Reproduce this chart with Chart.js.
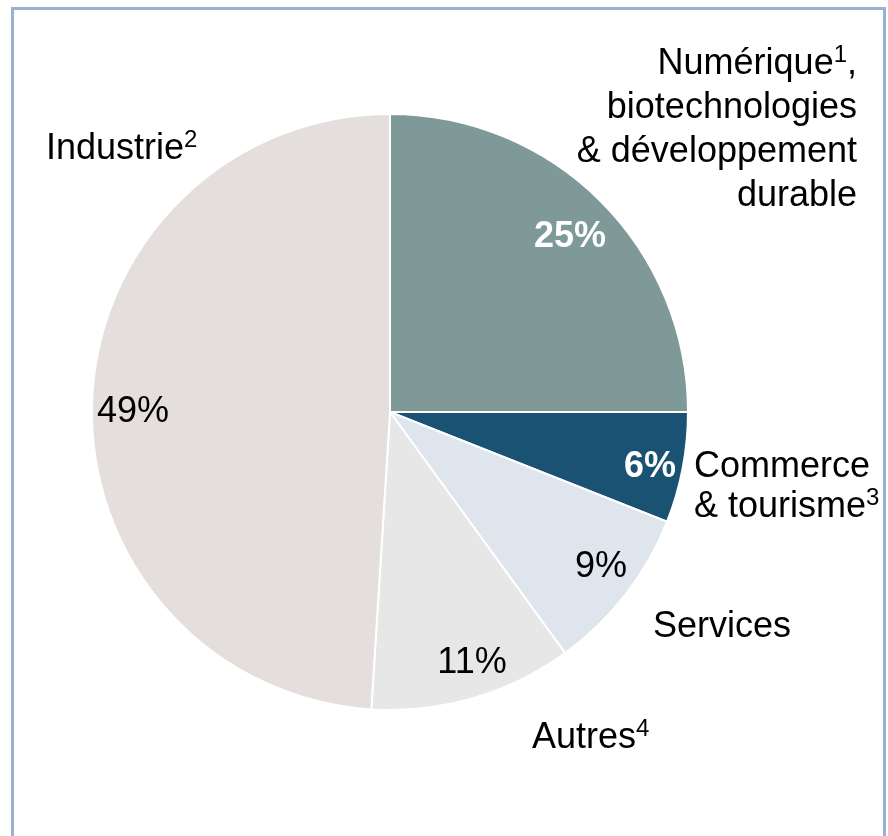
<!DOCTYPE html>
<html lang="fr">
<head>
<meta charset="utf-8">
<title>Répartition par secteur</title>
<script src="https://cdn.jsdelivr.net/npm/chart.js@4.4.1/dist/chart.umd.min.js"></script>
<style>
  html, body { margin: 0; padding: 0; background: #fff; }
  #wrap { position: relative; width: 888px; height: 836px; overflow: hidden; }
  #frame {
    position: absolute; left: 11px; top: 7px; width: 875px; height: 860px;
    border: 3px solid #9bb1d2; box-sizing: border-box;
  }
  canvas { position: absolute; left: 0; top: 0; }
</style>
</head>
<body>
<div id="wrap">
  <div id="frame"></div>
  <canvas id="chart-secteurs" width="888" height="836"></canvas>
</div>
<script>
// Sectors, clockwise from 12 o'clock
const categories = ['Numérique, biotechnologies & développement durable', 'Commerce & tourisme', 'Services', 'Autres', 'Industrie'];
const shares = [25, 6, 9, 11, 49];
const sliceColors = ['#7f9898', '#1a5273', '#dfe5ed', '#e7e7e7', '#e4dfdc'];

const FONT = '"Liberation Sans", Arial, Helvetica, sans-serif';

// Draw a line made of text parts; parts flagged sup are drawn smaller and raised
function drawParts(ctx, parts, x, y, align, size, weight, color) {
  const supSize = Math.round(size * 0.66);
  let total = 0;
  parts.forEach(p => {
    ctx.font = weight + ' ' + (p.sup ? supSize : size) + 'px ' + FONT;
    p.w = ctx.measureText(p.t).width;
    total += p.w;
  });
  let cx = x;
  if (align === 'right') cx = x - total;
  if (align === 'center') cx = x - total / 2;
  ctx.fillStyle = color;
  ctx.textAlign = 'left';
  ctx.textBaseline = 'alphabetic';
  parts.forEach(p => {
    ctx.font = weight + ' ' + (p.sup ? supSize : size) + 'px ' + FONT;
    ctx.fillText(p.t, cx, p.sup ? y - 12 : y);
    cx += p.w;
  });
}

const labelsPlugin = {
  id: 'sectorLabels',
  afterDraw(chart) {
    const ctx = chart.ctx;
    ctx.save();

    // category names
    drawParts(ctx, [{ t: 'Numérique' }, { t: '1', sup: true }, { t: ',' }], 857, 74, 'right', 36, 'normal', '#000');
    drawParts(ctx, [{ t: 'biotechnologies' }], 857, 118, 'right', 36, 'normal', '#000');
    drawParts(ctx, [{ t: '& développement' }], 857, 162, 'right', 36, 'normal', '#000');
    drawParts(ctx, [{ t: 'durable' }], 857, 206, 'right', 36, 'normal', '#000');
    drawParts(ctx, [{ t: 'Industrie' }, { t: '2', sup: true }], 46, 159, 'left', 36, 'normal', '#000');
    drawParts(ctx, [{ t: 'Commerce' }], 694, 477, 'left', 36, 'normal', '#000');
    drawParts(ctx, [{ t: '& tourisme' }, { t: '3', sup: true }], 694, 517, 'left', 36, 'normal', '#000');
    drawParts(ctx, [{ t: 'Services' }], 653, 637, 'left', 36, 'normal', '#000');
    drawParts(ctx, [{ t: 'Autres' }, { t: '4', sup: true }], 532, 748, 'left', 36, 'normal', '#000');

    // percentages
    const pctPos = [[570, 247], [650, 477], [601, 577], [472, 673], [133, 422]];
    const onDark = [true, true, false, false, false];
    shares.forEach((v, i) => {
      drawParts(ctx, [{ t: v + '%' }], pctPos[i][0], pctPos[i][1], 'center', 36,
        onDark[i] ? 'bold' : 'normal', onDark[i] ? '#ffffff' : '#000000');
    });

    ctx.restore();
  }
};

new Chart(document.getElementById('chart-secteurs'), {
  type: 'pie',
  data: {
    labels: categories,
    datasets: [{
      data: shares,
      backgroundColor: sliceColors,
      borderColor: '#ffffff',
      borderWidth: 2
    }]
  },
  options: {
    responsive: false,
    animation: false,
    events: [],
    layout: { padding: { left: 91, top: 113, right: 199, bottom: 125 } },
    plugins: {
      legend: { display: false },
      tooltip: { enabled: false }
    }
  },
  plugins: [labelsPlugin]
});
</script>
</body>
</html>
